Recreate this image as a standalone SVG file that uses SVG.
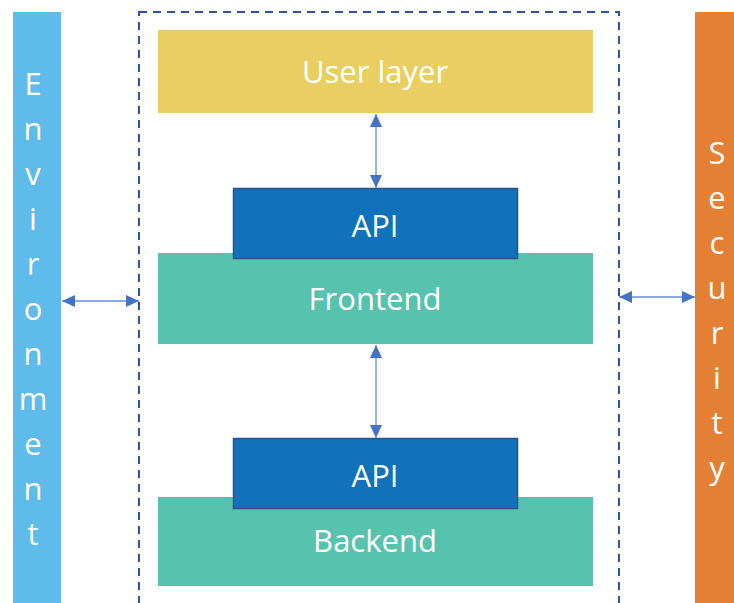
<svg xmlns="http://www.w3.org/2000/svg" width="734" height="603" viewBox="0 0 734 603">
<defs>
<marker id="ah" markerUnits="userSpaceOnUse" markerWidth="14" markerHeight="12" refX="13" refY="6" orient="auto-start-reverse" viewBox="0 0 14 12">
<path d="M0,0 L13,6 L0,12 Z" fill="#4472C4"/>
</marker>
<style>
.lbl{font-family:"Open Sans","Noto Sans","Liberation Sans",sans-serif;font-size:31px;fill:#fff;text-anchor:middle}
.conn{stroke:#8FAADC;stroke-width:1.8;fill:none;marker-start:url(#ah);marker-end:url(#ah)}
.api{fill:#1172BA;stroke:#2F528F;stroke-width:1.5}
.green{fill:#57C2AE}
</style>
</defs>
<rect width="734" height="603" fill="#fff"/>
<g id="environment">
<rect x="13" y="12" width="48" height="591" fill="#5EBBEA"/>
<text class="lbl" x="33"><tspan x="33" y="95">E</tspan><tspan x="33" y="140">n</tspan><tspan x="33" y="185">v</tspan><tspan x="33" y="230">i</tspan><tspan x="33" y="275">r</tspan><tspan x="33" y="320">o</tspan><tspan x="33" y="365">n</tspan><tspan x="33" y="410">m</tspan><tspan x="33" y="455">e</tspan><tspan x="33" y="500">n</tspan><tspan x="33" y="545">t</tspan></text>
</g>
<g id="security">
<rect x="695" y="12" width="39" height="591" fill="#E38034"/>
<text class="lbl" x="717"><tspan x="717" y="164">S</tspan><tspan x="717" y="209">e</tspan><tspan x="717" y="254">c</tspan><tspan x="717" y="299">u</tspan><tspan x="717" y="344">r</tspan><tspan x="717" y="389">i</tspan><tspan x="717" y="434">t</tspan><tspan x="717" y="479">y</tspan></text>
</g>
<g id="system-boundary">
<rect x="139" y="12" width="480" height="600" fill="none" stroke="#2F5597" stroke-width="2" stroke-dasharray="8,6"/>
</g>
<g id="user-layer">
<rect x="158" y="30" width="435" height="83" fill="#E9CF61"/>
<text class="lbl" x="375" y="83">User layer</text>
</g>
<g id="frontend">
<rect class="green" x="158" y="253" width="435" height="91"/>
<text class="lbl" x="375" y="310">Frontend</text>
</g>
<g id="api-frontend">
<rect class="api" x="233.5" y="188.5" width="284" height="70"/>
<text class="lbl" x="375" y="237">API</text>
</g>
<g id="backend">
<rect class="green" x="158" y="497" width="435" height="89"/>
<text class="lbl" x="375" y="552">Backend</text>
</g>
<g id="api-backend">
<rect class="api" x="233.5" y="438.5" width="284" height="70"/>
<text class="lbl" x="375" y="487">API</text>
</g>
<g id="connectors">
<line class="conn" x1="376" y1="114" x2="376" y2="188"/>
<line class="conn" x1="376" y1="345" x2="376" y2="438"/>
<line class="conn" x1="62" y1="301" x2="139" y2="301"/>
<line class="conn" x1="619" y1="297" x2="695" y2="297"/>
</g>
</svg>
